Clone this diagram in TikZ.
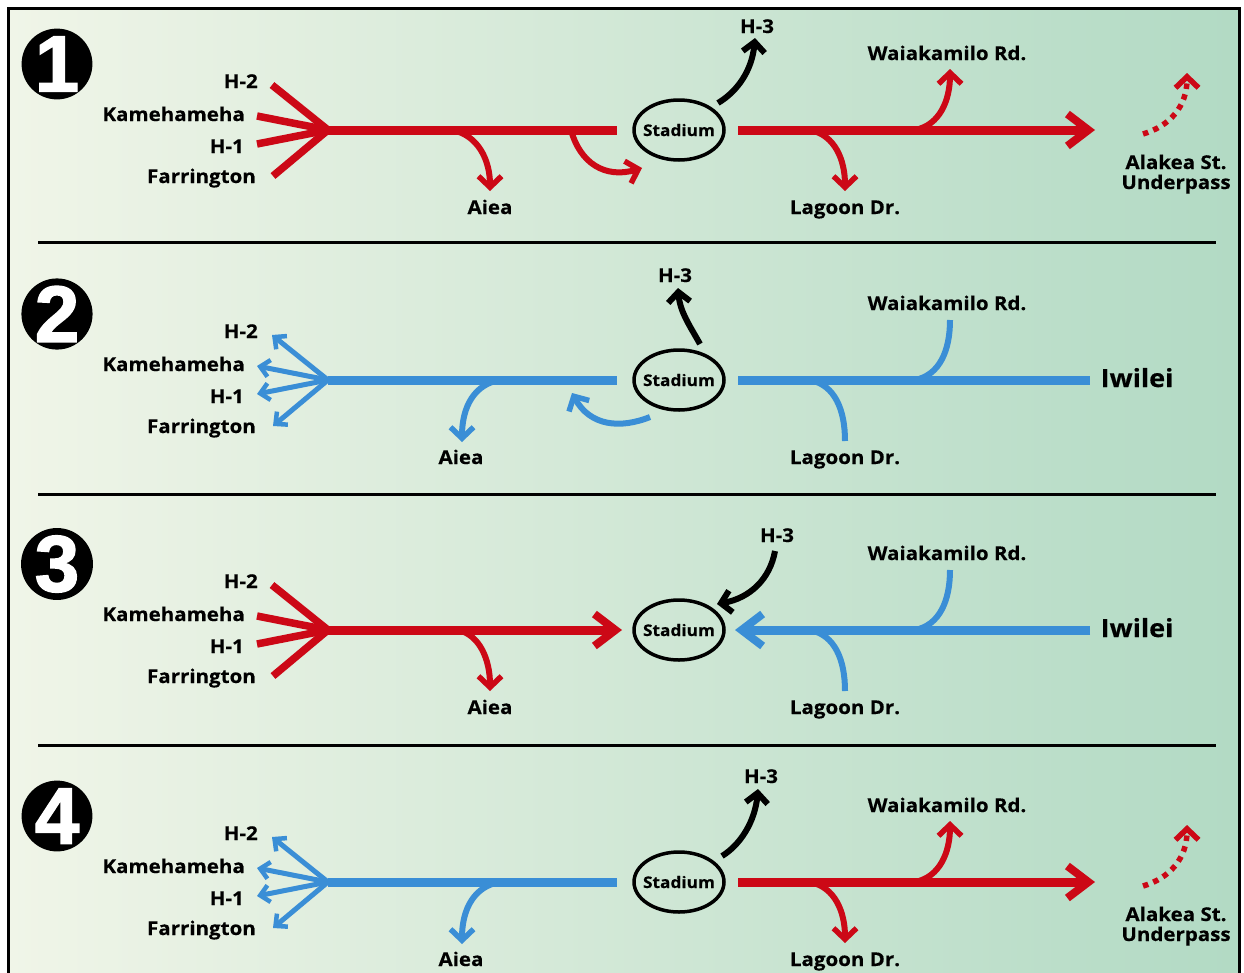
\documentclass[tikz,border=0pt]{standalone}
\usepackage{fontspec}
\setmainfont{Open Sans}[FakeStretch=1.08,BoldFeatures={FakeBold=0.4}]
\newfontfamily\numfont{Liberation Sans}[BoldFeatures={FakeBold=1.8}]
\usetikzlibrary{arrows.meta,shapes.geometric}
\definecolor{rd}{RGB}{204,8,22}
\definecolor{bl}{RGB}{58,142,214}
\definecolor{bgl}{RGB}{240,245,232}
\definecolor{bgr}{RGB}{178,218,196}
\tikzset{
  bigtip/.tip={Straight Barb[sharp,length=21pt,width=32pt,line width=8pt]},
  brtip/.tip={Straight Barb[sharp,length=11pt,width=23pt,line width=5.5pt]},
  h3tip/.tip={Straight Barb[sharp,length=10pt,width=22pt,line width=6pt]},
  fantip/.tip={Straight Barb[sharp,length=9pt,width=17pt,line width=4.5pt]},
  mainred/.style={draw=rd,line width=9pt},
  mainblue/.style={draw=bl,line width=9pt},
  fanred/.style={draw=rd,line width=7.5pt},
  fanblue/.style={draw=bl,line width=5pt},
  brred/.style={draw=rd,line width=6pt},
  brblue/.style={draw=bl,line width=6pt},
  hthree/.style={draw=black,line width=6pt},
  dotred/.style={draw=rd,line width=5.5pt,dash pattern=on 5.5pt off 5.5pt},
  lbl/.style={font=\fontsize{19}{21}\selectfont\bfseries,inner sep=0pt},
  biglbl/.style={font=\fontsize{25}{28}\selectfont\bfseries,inner sep=0pt},
  stad/.style={ellipse,draw=black,line width=3.5pt,minimum width=90pt,minimum height=60pt,inner xsep=-6pt,inner ysep=0pt,font=\fontsize{16}{18}\selectfont\bfseries},
  numc/.style={circle,fill=black,minimum size=68pt,inner sep=0pt,text=white,font=\numfont\bfseries\fontsize{80}{80}\selectfont},
  sep/.style={draw=black,line width=3pt}
}
\begin{document}
\begin{tikzpicture}[x=1pt,y=-1pt]
\clip (0,0) rectangle (1244,972);
\fill[white] (0,0) rectangle (1244,972);
\shade[left color=bgl,right color=bgr] (8,8) rectangle (1239,980);
\draw[line width=3pt] (8,8) rectangle (1239,990);
\draw[sep] (38,242) -- (1216,242);
\draw[sep] (38,494) -- (1216,494);
\draw[sep] (38,745) -- (1216,745);

\foreach \i/\dy in {1/0,2/250,3/500,4/752}{
 \begin{scope}[shift={(0,\dy)}]
  \node[numc] (num\i) at (57,64) {\i};
  \node[lbl,anchor=base east] (hh\i) at (258,88) {H-2};
  \node[lbl,anchor=base east] (km\i) at (245,121) {Kamehameha};
  \node[lbl,anchor=base east] (ho\i) at (244,153) {H-1};
  \node[lbl,anchor=base east] (fa\i) at (256,183) {Farrington};
  \node[stad] (st\i) at (679,130) {Stadium};
  \node[lbl,anchor=base] (wk\i) at (947,60) {Waiakamilo Rd.};
  \node[lbl,anchor=base] (lg\i) at (845,214) {Lagoon Dr.};
  \coordinate (m\i) at (328,130);
  \coordinate (fA\i) at (272,85);
  \coordinate (fB\i) at (257,116);
  \coordinate (fC\i) at (257,144);
  \coordinate (fD\i) at (273,176);
  \coordinate (le\i) at (617,130);
  \coordinate (rs\i) at (738,130);
  \coordinate (lgS\i) at (810,130);
  \coordinate (lgE\i) at (845,191);
  \coordinate (wkS\i) at (915,130);
 \end{scope}
}

% ---------- panel 1
\begin{scope}
 \foreach \f in {A,B,C,D} \draw[fanred] (f\f1) -- (m1);
 \draw[mainred] (m1) -- (le1);
 \coordinate (aS1) at (452,130); \coordinate (aE1) at (490,191);
 \draw[brred,-{brtip}] (aS1) .. controls (478,135) and (490,160) .. (aE1);
 \node[lbl,anchor=base] (ai1) at (490,214) {Aiea};
 \coordinate (cS1) at (571,130); \coordinate (cE1) at (642,168);
 \draw[brred,-{brtip}] (cS1) .. controls (580,163) and (605,179) .. (cE1);
 \coordinate (hS1) at (718,103); \coordinate (hE1) at (755,38);
 \draw[hthree,-{h3tip}] (hS1) .. controls (738,91) and (752,70) .. (hE1);
 \node[lbl,anchor=base] (ht1) at (757,33) {H-3};
 \coordinate (re1) at (1095,130);
 \draw[mainred,-{bigtip}] (rs1) -- (re1);
 \draw[brred,-{brtip}] (lgS1) .. controls (835,135) and (845,160) .. (lgE1);
 \coordinate (wkE1) at (950,69);
 \draw[brred,-{brtip}] (wkS1) .. controls (940,125) and (950,100) .. (wkE1);
 \coordinate (dS1) at (1143,134); \coordinate (dE1) at (1187,73);
 \draw[dotred,-{brtip}] (dS1) .. controls (1170,126) and (1187,106) .. (dE1);
 \node[lbl,anchor=base] (al1) at (1176,169) {Alakea St.};
 \node[lbl,anchor=base] (up1) at (1176,189) {Underpass};
\end{scope}

% ---------- panel 2
\begin{scope}[shift={(0,250)}]
 \foreach \f in {A,B,C,D} \draw[fanblue,-{fantip}] (m2) -- (f\f2);
 \draw[mainblue] (m2) -- (le2);
 \coordinate (aS2) at (500,130); \coordinate (aE2) at (462,192);
 \draw[brblue,-{brtip}] (aS2) .. controls (475,134) and (462,156) .. (aE2);
 \node[lbl,anchor=base] (ai2) at (461,214) {Aiea};
 \coordinate (cS2) at (650,167); \coordinate (cE2) at (572,143);
 \draw[brblue,-{brtip}] (cS2) .. controls (620,179) and (590,176) .. (cE2);
 \coordinate (hS2) at (700,94); \coordinate (hE2) at (678,38);
 \draw[hthree,-{h3tip}] (hS2) .. controls (690,76) and (680,62) .. (hE2);
 \node[lbl,anchor=base] (ht2) at (675,32) {H-3};
 \coordinate (re2) at (1090,130);
 \draw[mainblue] (rs2) -- (re2);
 \draw[brblue] (lgS2) .. controls (835,135) and (845,160) .. (lgE2);
 \coordinate (wkE2) at (950,70);
 \draw[brblue] (wkS2) .. controls (940,125) and (950,100) .. (wkE2);
 \node[biglbl,anchor=base] (iw2) at (1137,137) {Iwilei};
\end{scope}

% ---------- panel 3
\begin{scope}[shift={(0,500)}]
 \foreach \f in {A,B,C,D} \draw[fanred] (f\f3) -- (m3);
 \coordinate (ta3) at (622,130);
 \draw[mainred,-{bigtip}] (m3) -- (ta3);
 \coordinate (aS3) at (458,130); \coordinate (aE3) at (490,191);
 \draw[brred,-{brtip}] (aS3) .. controls (480,135) and (490,160) .. (aE3);
 \node[lbl,anchor=base] (ai3) at (490,214) {Aiea};
 \coordinate (hS3) at (775,51); \coordinate (hE3) at (717,104);
 \draw[hthree,-{h3tip}] (hS3) .. controls (770,79) and (750,98) .. (hE3);
 \node[lbl,anchor=base] (ht3) at (777,42) {H-3};
 \coordinate (bs3) at (1090,130); \coordinate (tb3) at (735,130);
 \draw[mainblue,-{bigtip}] (bs3) -- (tb3);
 \draw[brblue] (lgS3) .. controls (835,135) and (845,160) .. (lgE3);
 \coordinate (wkE3) at (950,70);
 \draw[brblue] (wkS3) .. controls (940,125) and (950,100) .. (wkE3);
 \node[biglbl,anchor=base] (iw3) at (1137,137) {Iwilei};
\end{scope}

% ---------- panel 4
\begin{scope}[shift={(0,752)}]
 \foreach \f in {A,B,C,D} \draw[fanblue,-{fantip}] (m4) -- (f\f4);
 \draw[mainblue] (m4) -- (le4);
 \coordinate (aS4) at (500,130); \coordinate (aE4) at (462,192);
 \draw[brblue,-{brtip}] (aS4) .. controls (475,134) and (462,156) .. (aE4);
 \node[lbl,anchor=base] (ai4) at (461,214) {Aiea};
 \coordinate (hS4) at (722,104); \coordinate (hE4) at (758,37);
 \draw[hthree,-{h3tip}] (hS4) .. controls (740,93) and (755,70) .. (hE4);
 \node[lbl,anchor=base] (ht4) at (761,31) {H-3};
 \coordinate (re4) at (1095,130);
 \draw[mainred,-{bigtip}] (rs4) -- (re4);
 \draw[brred,-{brtip}] (lgS4) .. controls (835,135) and (845,160) .. (lgE4);
 \coordinate (wkE4) at (950,69);
 \draw[brred,-{brtip}] (wkS4) .. controls (940,125) and (950,100) .. (wkE4);
 \coordinate (dS4) at (1143,134); \coordinate (dE4) at (1187,73);
 \draw[dotred,-{brtip}] (dS4) .. controls (1170,126) and (1187,106) .. (dE4);
 \node[lbl,anchor=base] (al4) at (1176,169) {Alakea St.};
 \node[lbl,anchor=base] (up4) at (1176,189) {Underpass};
\end{scope}
\end{tikzpicture}
\end{document}
